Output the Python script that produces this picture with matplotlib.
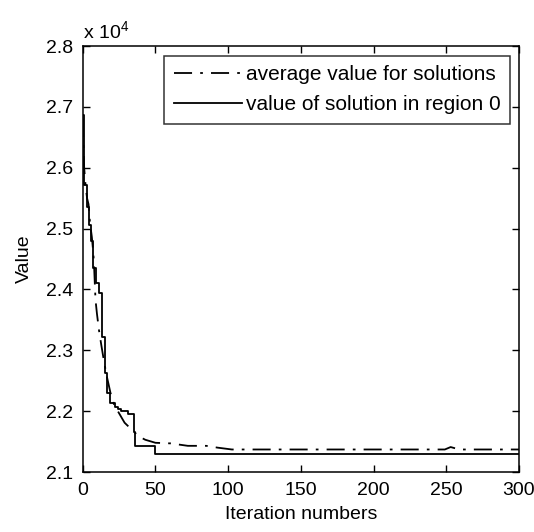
"""
Convergence of the solution value vs. iteration
"""

import numpy as np
import matplotlib
matplotlib.use('Agg')
import matplotlib.pyplot as plt

plt.rcParams['font.family'] = ['Liberation Sans', 'DejaVu Sans']
plt.rcParams['mathtext.default'] = 'regular'

# values are in units of 1e4
# value of solution in region 0 (step curve)
region0_iter = [0, 1, 3, 4, 6, 7, 9, 11, 13, 15.6, 16.6, 18.6, 22.5, 24.4, 26.4, 31.3,
                35.2, 36.2, 50, 300]
region0_val = [2.687, 2.572, 2.535, 2.506, 2.480, 2.435, 2.410, 2.394, 2.322, 2.263,
               2.230, 2.213, 2.207, 2.203, 2.200, 2.195, 2.166, 2.142, 2.130, 2.130]

# average value for solutions
avg_iter = [0, 1, 2, 3, 4, 5, 6.3, 7.3, 7.8, 8.8, 9.8, 11.2, 12.7, 14.7, 16.6, 19, 21.5,
            24.4, 28.8, 35.7, 39, 43, 50, 60.5, 72.3, 85, 92.8, 102.6, 249, 253, 259, 300]
avg_val = [2.680, 2.600, 2.570, 2.550, 2.540, 2.510, 2.486, 2.460, 2.440, 2.383, 2.360,
           2.333, 2.310, 2.281, 2.257, 2.231, 2.211, 2.199, 2.181, 2.165, 2.158, 2.153,
           2.148, 2.147, 2.143, 2.143, 2.140, 2.137, 2.137, 2.141, 2.137, 2.137]

xticks = [0, 50, 100, 150, 200, 250, 300]
yticks = [2.1, 2.2, 2.3, 2.4, 2.5, 2.6, 2.7, 2.8]

fs = 14
fs_leg = 15

fig = plt.figure(figsize=(5.34, 5.32), dpi=100)
ax = fig.add_axes([82.7/534, 60/532, 436.3/534, 426/532])

ax.plot(avg_iter, avg_val, color='black', lw=1.3,
        linestyle=(0, (10, 4.5, 1.5, 4.5)), label='average value for solutions')
ax.plot(region0_iter, region0_val, color='black', lw=1.3, drawstyle='steps-post',
        label='value of solution in region 0')

ax.set_xlim(0, 300)
ax.set_ylim(2.1, 2.8)
ax.set_xticks(xticks)
ax.set_yticks(yticks)
ax.set_yticklabels(['%.1f' % v for v in yticks])
ax.tick_params(direction='in', top=True, right=True, length=5, width=1,
               labelsize=fs, pad=7)
for s in ax.spines.values():
    s.set_linewidth(1.1)

ax.text(0.0, 1.01, r'x 10$^{4}$', transform=ax.transAxes, fontsize=fs,
        ha='left', va='bottom')

ax.set_xlabel('Iteration numbers', fontsize=fs, labelpad=5)
ax.set_ylabel('Value', fontsize=fs, labelpad=9)

leg = ax.legend(loc='upper right', bbox_to_anchor=(0.979, 0.9765), borderaxespad=0,
                fontsize=fs_leg, frameon=True, fancybox=False, edgecolor='black',
                handlelength=3.25, handletextpad=0.2, borderpad=0.45,
                labelspacing=0.52)
leg.get_frame().set_linewidth(1.1)

plt.savefig('out.png', dpi=100)
